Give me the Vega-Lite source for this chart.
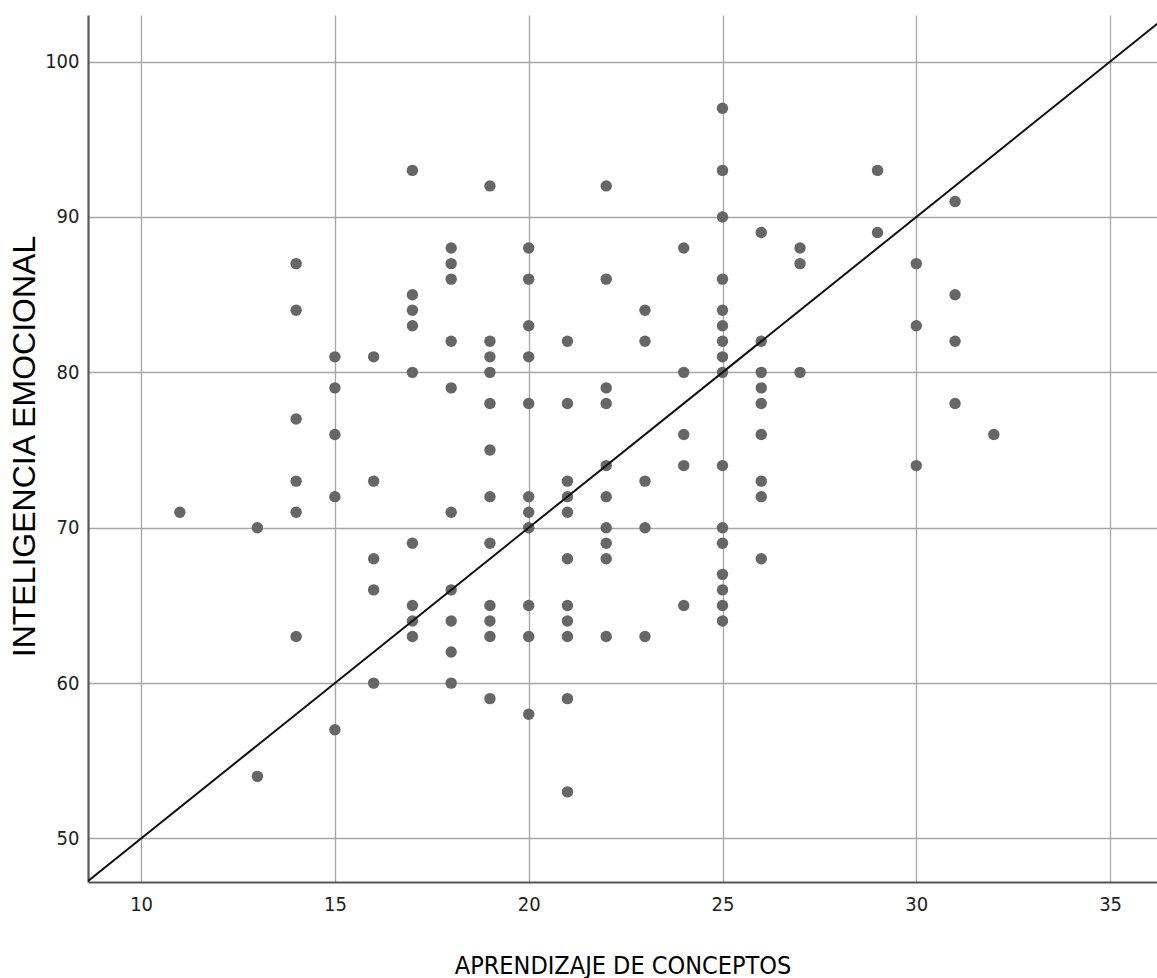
{
  "$schema": "https://vega.github.io/schema/vega-lite/v6.json",
  "width": 1069,
  "height": 867,
  "autosize": "none",
  "padding": {"left": 88, "top": 15, "right": 0, "bottom": 96},
  "background": "white",
  "config": {"view": {"stroke": null}},
  "datasets": {
    "puntos": [
      {"aprendizaje": 11, "inteligencia": 71},
      {"aprendizaje": 13, "inteligencia": 70},
      {"aprendizaje": 13, "inteligencia": 54},
      {"aprendizaje": 14, "inteligencia": 87},
      {"aprendizaje": 14, "inteligencia": 84},
      {"aprendizaje": 14, "inteligencia": 77},
      {"aprendizaje": 14, "inteligencia": 73},
      {"aprendizaje": 14, "inteligencia": 71},
      {"aprendizaje": 14, "inteligencia": 63},
      {"aprendizaje": 15, "inteligencia": 81},
      {"aprendizaje": 15, "inteligencia": 79},
      {"aprendizaje": 15, "inteligencia": 76},
      {"aprendizaje": 15, "inteligencia": 72},
      {"aprendizaje": 15, "inteligencia": 57},
      {"aprendizaje": 16, "inteligencia": 81},
      {"aprendizaje": 16, "inteligencia": 73},
      {"aprendizaje": 16, "inteligencia": 68},
      {"aprendizaje": 16, "inteligencia": 66},
      {"aprendizaje": 16, "inteligencia": 60},
      {"aprendizaje": 17, "inteligencia": 93},
      {"aprendizaje": 17, "inteligencia": 85},
      {"aprendizaje": 17, "inteligencia": 84},
      {"aprendizaje": 17, "inteligencia": 83},
      {"aprendizaje": 17, "inteligencia": 80},
      {"aprendizaje": 17, "inteligencia": 69},
      {"aprendizaje": 17, "inteligencia": 65},
      {"aprendizaje": 17, "inteligencia": 64},
      {"aprendizaje": 17, "inteligencia": 63},
      {"aprendizaje": 18, "inteligencia": 88},
      {"aprendizaje": 18, "inteligencia": 87},
      {"aprendizaje": 18, "inteligencia": 86},
      {"aprendizaje": 18, "inteligencia": 82},
      {"aprendizaje": 18, "inteligencia": 79},
      {"aprendizaje": 18, "inteligencia": 71},
      {"aprendizaje": 18, "inteligencia": 66},
      {"aprendizaje": 18, "inteligencia": 64},
      {"aprendizaje": 18, "inteligencia": 62},
      {"aprendizaje": 18, "inteligencia": 60},
      {"aprendizaje": 19, "inteligencia": 92},
      {"aprendizaje": 19, "inteligencia": 82},
      {"aprendizaje": 19, "inteligencia": 81},
      {"aprendizaje": 19, "inteligencia": 80},
      {"aprendizaje": 19, "inteligencia": 78},
      {"aprendizaje": 19, "inteligencia": 75},
      {"aprendizaje": 19, "inteligencia": 72},
      {"aprendizaje": 19, "inteligencia": 69},
      {"aprendizaje": 19, "inteligencia": 65},
      {"aprendizaje": 19, "inteligencia": 64},
      {"aprendizaje": 19, "inteligencia": 63},
      {"aprendizaje": 19, "inteligencia": 59},
      {"aprendizaje": 20, "inteligencia": 88},
      {"aprendizaje": 20, "inteligencia": 86},
      {"aprendizaje": 20, "inteligencia": 83},
      {"aprendizaje": 20, "inteligencia": 81},
      {"aprendizaje": 20, "inteligencia": 78},
      {"aprendizaje": 20, "inteligencia": 72},
      {"aprendizaje": 20, "inteligencia": 71},
      {"aprendizaje": 20, "inteligencia": 70},
      {"aprendizaje": 20, "inteligencia": 65},
      {"aprendizaje": 20, "inteligencia": 63},
      {"aprendizaje": 20, "inteligencia": 58},
      {"aprendizaje": 21, "inteligencia": 82},
      {"aprendizaje": 21, "inteligencia": 78},
      {"aprendizaje": 21, "inteligencia": 73},
      {"aprendizaje": 21, "inteligencia": 72},
      {"aprendizaje": 21, "inteligencia": 71},
      {"aprendizaje": 21, "inteligencia": 68},
      {"aprendizaje": 21, "inteligencia": 65},
      {"aprendizaje": 21, "inteligencia": 64},
      {"aprendizaje": 21, "inteligencia": 63},
      {"aprendizaje": 21, "inteligencia": 59},
      {"aprendizaje": 21, "inteligencia": 53},
      {"aprendizaje": 22, "inteligencia": 92},
      {"aprendizaje": 22, "inteligencia": 86},
      {"aprendizaje": 22, "inteligencia": 79},
      {"aprendizaje": 22, "inteligencia": 78},
      {"aprendizaje": 22, "inteligencia": 74},
      {"aprendizaje": 22, "inteligencia": 72},
      {"aprendizaje": 22, "inteligencia": 70},
      {"aprendizaje": 22, "inteligencia": 69},
      {"aprendizaje": 22, "inteligencia": 68},
      {"aprendizaje": 22, "inteligencia": 63},
      {"aprendizaje": 23, "inteligencia": 84},
      {"aprendizaje": 23, "inteligencia": 82},
      {"aprendizaje": 23, "inteligencia": 73},
      {"aprendizaje": 23, "inteligencia": 70},
      {"aprendizaje": 23, "inteligencia": 63},
      {"aprendizaje": 24, "inteligencia": 88},
      {"aprendizaje": 24, "inteligencia": 80},
      {"aprendizaje": 24, "inteligencia": 76},
      {"aprendizaje": 24, "inteligencia": 74},
      {"aprendizaje": 24, "inteligencia": 65},
      {"aprendizaje": 25, "inteligencia": 97},
      {"aprendizaje": 25, "inteligencia": 93},
      {"aprendizaje": 25, "inteligencia": 90},
      {"aprendizaje": 25, "inteligencia": 86},
      {"aprendizaje": 25, "inteligencia": 84},
      {"aprendizaje": 25, "inteligencia": 83},
      {"aprendizaje": 25, "inteligencia": 82},
      {"aprendizaje": 25, "inteligencia": 81},
      {"aprendizaje": 25, "inteligencia": 80},
      {"aprendizaje": 25, "inteligencia": 74},
      {"aprendizaje": 25, "inteligencia": 70},
      {"aprendizaje": 25, "inteligencia": 69},
      {"aprendizaje": 25, "inteligencia": 67},
      {"aprendizaje": 25, "inteligencia": 66},
      {"aprendizaje": 25, "inteligencia": 65},
      {"aprendizaje": 25, "inteligencia": 64},
      {"aprendizaje": 26, "inteligencia": 89},
      {"aprendizaje": 26, "inteligencia": 82},
      {"aprendizaje": 26, "inteligencia": 80},
      {"aprendizaje": 26, "inteligencia": 79},
      {"aprendizaje": 26, "inteligencia": 78},
      {"aprendizaje": 26, "inteligencia": 76},
      {"aprendizaje": 26, "inteligencia": 73},
      {"aprendizaje": 26, "inteligencia": 72},
      {"aprendizaje": 26, "inteligencia": 68},
      {"aprendizaje": 27, "inteligencia": 88},
      {"aprendizaje": 27, "inteligencia": 87},
      {"aprendizaje": 27, "inteligencia": 80},
      {"aprendizaje": 29, "inteligencia": 93},
      {"aprendizaje": 29, "inteligencia": 89},
      {"aprendizaje": 30, "inteligencia": 87},
      {"aprendizaje": 30, "inteligencia": 83},
      {"aprendizaje": 30, "inteligencia": 74},
      {"aprendizaje": 31, "inteligencia": 91},
      {"aprendizaje": 31, "inteligencia": 85},
      {"aprendizaje": 31, "inteligencia": 82},
      {"aprendizaje": 31, "inteligencia": 78},
      {"aprendizaje": 32, "inteligencia": 76}
    ],
    "recta": [
      {"aprendizaje": 8.6, "inteligencia": 47.2},
      {"aprendizaje": 36.3, "inteligencia": 102.6}
    ]
  },
  "layer": [
    {
      "data": {"name": "puntos"},
      "mark": {"type": "point", "shape": "circle", "filled": true, "size": 130, "color": "#666666", "opacity": 1},
      "encoding": {
        "x": {
          "field": "aprendizaje",
          "type": "quantitative",
          "scale": {"domain": [8.63, 36.21], "nice": false, "zero": false},
          "axis": {
            "title": "APRENDIZAJE DE CONCEPTOS",
            "values": [10, 15, 20, 25, 30, 35],
            "grid": true,
            "gridColor": "#a6a6a6",
            "gridWidth": 1.3,
            "domainColor": "#555555",
            "domainWidth": 2.2,
            "ticks": false,
            "tickSize": 0,
            "labelFont": "DejaVu Sans Condensed, sans-serif",
            "labelFontSize": 20,
            "labelColor": "#222222",
            "labelPadding": 12,
            "labelBaseline": "top",
            "titleFont": "DejaVu Sans Condensed, sans-serif",
            "titleFontSize": 25,
            "titleFontWeight": "normal",
            "titleColor": "#000000",
            "titleBaseline": "alphabetic",
            "titleY": 91
          }
        },
        "y": {
          "field": "inteligencia",
          "type": "quantitative",
          "scale": {"domain": [47.2, 103], "nice": false, "zero": false},
          "axis": {
            "title": "INTELIGENCIA EMOCIONAL",
            "values": [50, 60, 70, 80, 90, 100],
            "grid": true,
            "gridColor": "#a6a6a6",
            "gridWidth": 1.3,
            "domainColor": "#555555",
            "domainWidth": 2.2,
            "ticks": false,
            "tickSize": 0,
            "labelFont": "DejaVu Sans Condensed, sans-serif",
            "labelFontSize": 20,
            "labelColor": "#222222",
            "labelPadding": 9,
            "titleFont": "Liberation Sans, Arial, sans-serif",
            "titleFontSize": 32,
            "titleFontWeight": "normal",
            "titleColor": "#000000",
            "titleBaseline": "alphabetic",
            "titleAngle": -90,
            "titleX": -54,
            "titleY": 431
          }
        }
      }
    },
    {
      "data": {"name": "recta"},
      "mark": {"type": "line", "color": "#111111", "strokeWidth": 2, "clip": true},
      "encoding": {
        "x": {"field": "aprendizaje", "type": "quantitative"},
        "y": {"field": "inteligencia", "type": "quantitative"}
      }
    }
  ]
}
